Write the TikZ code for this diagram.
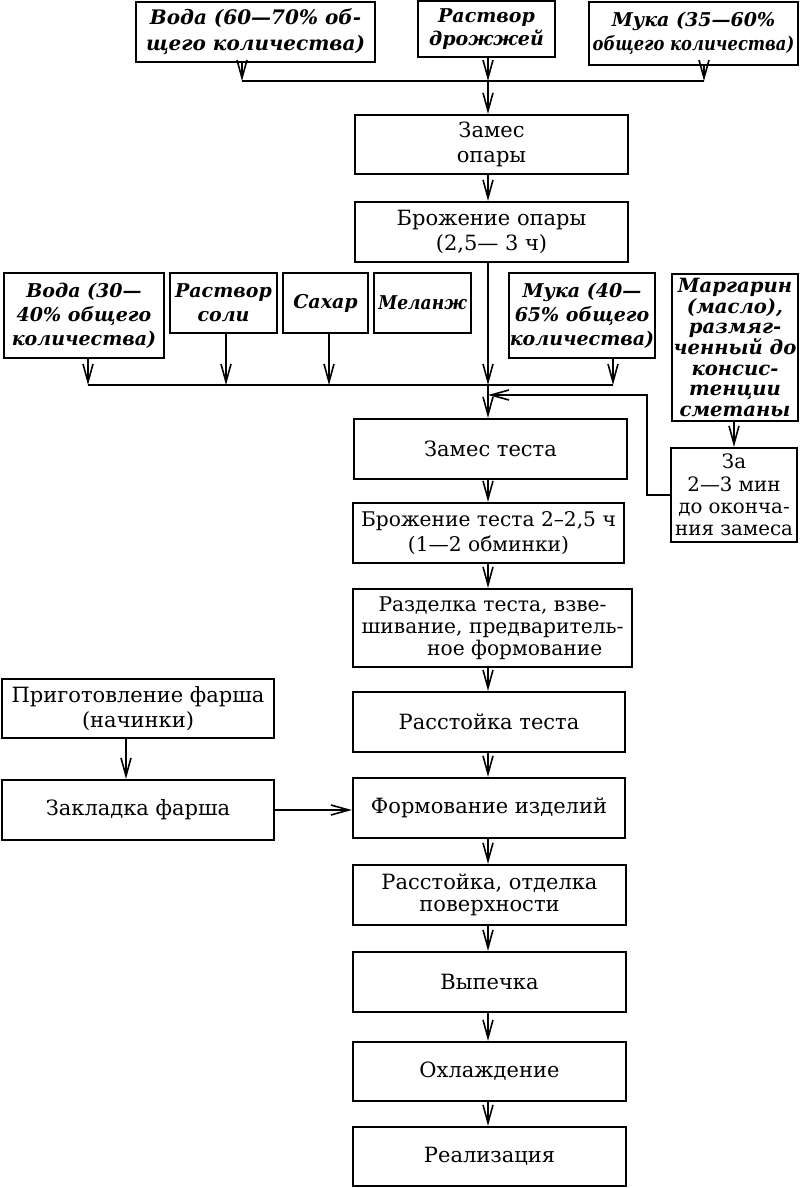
\documentclass[tikz,border=0pt]{standalone}
\usepackage{graphicx}
\usepackage{fontspec}
\setmainfont{DejaVu Serif}
\usetikzlibrary{arrows.meta}
\begin{document}
\begin{tikzpicture}[x=0.5pt,y=-0.5pt,
  box/.style={draw, line width=1.1pt, inner sep=0pt, align=center,
    font=\fontsize{10.5}{12.3}\selectfont},
  inbox/.style={box, font=\fontsize{9.5}{12}\selectfont\bfseries\itshape},
  arr/.style={-{Straight Barb[length=9pt,width=5pt,line width=0.8pt]}, line width=1pt},
  ln/.style={line width=1pt}]
\useasboundingbox (0,0) rectangle (800,1188);
% top inputs
\node[inbox, minimum width=119.5pt, minimum height=30pt, font=\fontsize{10}{13.2}\selectfont\bfseries\itshape] (w1) at (255.5,32) {Вода (60—70\% об-\\щего количества)};
\node[inbox, minimum width=68.5pt, minimum height=28pt, font=\fontsize{9.5}{11.5}\selectfont\bfseries\itshape] (dr) at (486.5,29) {Раствор\\дрожжей};
\node[inbox, minimum width=104.5pt, minimum height=31.5pt] (m1) at (693.5,33.5) {Мука (35—60\%\\\scalebox{0.86}[1]{общего количества)}};
% main column
\node[box, minimum width=136.5pt, minimum height=29.5pt] (zo) at (491.5,144.5) {Замес\\опары};
\node[box, minimum width=136.5pt, minimum height=30pt] (bo) at (491.5,232) {Брожение опары\\(2,5— 3 ч)};
% second inputs
\node[inbox, minimum width=80pt, minimum height=42.5pt] (w2) at (84,315.5) {Вода (30—\\40\% общего\\количества)};
\node[inbox, minimum width=53.5pt, minimum height=30pt] (rs) at (223.5,303) {Раствор\\соли};
\node[inbox, minimum width=42.5pt, minimum height=30pt] (sa) at (325.5,303) {Сахар};
\node[inbox, minimum width=48.5pt, minimum height=30pt] (me) at (422.5,303) {\scalebox{0.9}[1]{Меланж}};
\node[inbox, minimum width=73pt, minimum height=42.5pt] (m2) at (582,315.5) {Мука (40—\\65\% общего\\количества)};
\node[inbox, minimum width=63pt, minimum height=73.5pt, font=\fontsize{9.8}{10.35}\selectfont\bfseries\itshape] (ma) at (735,347.5) {Маргарин\\(масло),\\размяг-\\ченный до\\консис-\\тенции\\сметаны};
\node[box, minimum width=63pt, minimum height=47pt, font=\fontsize{9.9}{11.2}\selectfont] (za) at (734,495) {За\\2—3 мин\\до оконча-\\ния замеса};
% main column continued
\node[box, minimum width=136.5pt, minimum height=30pt] (zt) at (490.5,449) {Замес теста};
\node[box, minimum width=135.5pt, minimum height=30pt, font=\fontsize{10.1}{12.3}\selectfont] (bt) at (488.5,533) {Брожение теста 2–2,5 ч\\(1—2 обминки)};
\node[box, minimum width=139.5pt, minimum height=39pt, font=\fontsize{10.1}{10.9}\selectfont] (rz) at (492.5,628) {Разделка теста, взве-\\шивание, предваритель-\\\hspace*{2.2em}ное формование};
\node[box, minimum width=136pt, minimum height=30pt] (rt) at (489,722) {Расстойка теста};
\node[box, minimum width=136pt, minimum height=29.5pt] (pf) at (138,708.5) {Приготовление фарша\\(начинки)};
\node[box, minimum width=136pt, minimum height=30pt] (zf) at (138,810) {Закладка фарша};
\node[box, minimum width=136pt, minimum height=30pt] (fi) at (489,808) {Формование изделий};
\node[box, minimum width=136.5pt, minimum height=30pt, font=\fontsize{10.5}{11}\selectfont] (ro) at (489.5,895) {Расстойка, отделка\\поверхности};
\node[box, minimum width=136.5pt, minimum height=30pt] (vy) at (489.5,982) {Выпечка};
\node[box, minimum width=136.5pt, minimum height=29.5pt] (oh) at (489.5,1071.5) {Охлаждение};
\node[box, minimum width=136.5pt, minimum height=29.5pt] (re) at (489.5,1156.5) {Реализация};
% coordinates
\coordinate (ax) at (488,0);
\coordinate (j1a) at (242,81);
\coordinate (j1b) at (488,81);
\coordinate (j1c) at (704,81);
\coordinate (j2a) at (88,385);
\coordinate (j2b) at (226,385);
\coordinate (j2c) at (329,385);
\coordinate (j2m) at (488,385);
\coordinate (j2r) at (613,385);
\coordinate (rt1) at (647,395);
\coordinate (fx) at (126,0);
% connectors top
\draw[arr] (w1.south -| j1a) -- (j1a);
\draw[arr] (dr.south -| j1b) -- (j1b);
\draw[arr] (m1.south -| j1c) -- (j1c);
\draw[ln] (j1a) -- (j1c);
\draw[arr] (j1b) -- (j1b |- zo.north);
\draw[arr] (ax |- zo.south) -- (ax |- bo.north);
\draw[arr] (ax |- bo.south) -- (j2m);
% second junction
\draw[arr] (w2.south -| j2a) -- (j2a);
\draw[arr] (rs.south -| j2b) -- (j2b);
\draw[arr] (sa.south -| j2c) -- (j2c);
\draw[arr] (m2.south -| j2r) -- (j2r);
\draw[ln] (j2a) -- (j2r);
\draw[arr] (j2m) -- (j2m |- zt.north);
\draw[arr] (za.north |- ma.south) -- (za.north);
\draw[arr] (za.west) -- (za.west -| rt1) -- (rt1) -- (ax |- rt1);
% main chain
\draw[arr] (ax |- zt.south) -- (ax |- bt.north);
\draw[arr] (ax |- bt.south) -- (ax |- rz.north);
\draw[arr] (ax |- rz.south) -- (ax |- rt.north);
\draw[arr] (ax |- rt.south) -- (ax |- fi.north);
\draw[arr] (ax |- fi.south) -- (ax |- ro.north);
\draw[arr] (ax |- ro.south) -- (ax |- vy.north);
\draw[arr] (ax |- vy.south) -- (ax |- oh.north);
\draw[arr] (ax |- oh.south) -- (ax |- re.north);
% filling branch
\draw[arr] (fx |- pf.south) -- (fx |- zf.north);
\draw[arr] (zf.east) -- (zf.east -| fi.west);
\end{tikzpicture}
\end{document}
